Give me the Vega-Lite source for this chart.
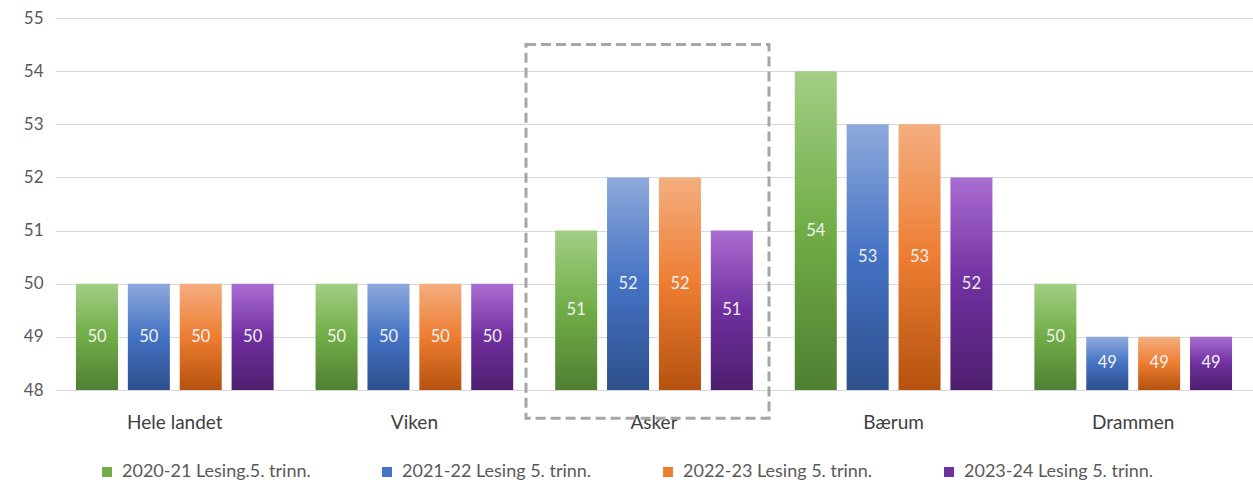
{
  "$schema": "https://vega.github.io/schema/vega-lite/v6.json",
  "width": 1198,
  "height": 372,
  "autosize": {"type": "none"},
  "padding": {"left": 55, "top": 18, "right": 0, "bottom": 95},
  "background": "white",
  "config": {
    "view": {"stroke": null},
    "font": "Lato",
    "axis": {"labelFont": "Lato"},
    "legend": {"labelFont": "Lato"}
  },
  "data": {
    "values": [
      {"kommune": "Hele landet", "serie": "2020-21 Lesing.5. trinn.", "verdi": 50},
      {"kommune": "Hele landet", "serie": "2021-22 Lesing 5. trinn.", "verdi": 50},
      {"kommune": "Hele landet", "serie": "2022-23 Lesing 5. trinn.", "verdi": 50},
      {"kommune": "Hele landet", "serie": "2023-24 Lesing 5. trinn.", "verdi": 50},
      {"kommune": "Viken", "serie": "2020-21 Lesing.5. trinn.", "verdi": 50},
      {"kommune": "Viken", "serie": "2021-22 Lesing 5. trinn.", "verdi": 50},
      {"kommune": "Viken", "serie": "2022-23 Lesing 5. trinn.", "verdi": 50},
      {"kommune": "Viken", "serie": "2023-24 Lesing 5. trinn.", "verdi": 50},
      {"kommune": "Asker", "serie": "2020-21 Lesing.5. trinn.", "verdi": 51},
      {"kommune": "Asker", "serie": "2021-22 Lesing 5. trinn.", "verdi": 52},
      {"kommune": "Asker", "serie": "2022-23 Lesing 5. trinn.", "verdi": 52},
      {"kommune": "Asker", "serie": "2023-24 Lesing 5. trinn.", "verdi": 51},
      {"kommune": "Bærum", "serie": "2020-21 Lesing.5. trinn.", "verdi": 54},
      {"kommune": "Bærum", "serie": "2021-22 Lesing 5. trinn.", "verdi": 53},
      {"kommune": "Bærum", "serie": "2022-23 Lesing 5. trinn.", "verdi": 53},
      {"kommune": "Bærum", "serie": "2023-24 Lesing 5. trinn.", "verdi": 52},
      {"kommune": "Drammen", "serie": "2020-21 Lesing.5. trinn.", "verdi": 50},
      {"kommune": "Drammen", "serie": "2021-22 Lesing 5. trinn.", "verdi": 49},
      {"kommune": "Drammen", "serie": "2022-23 Lesing 5. trinn.", "verdi": 49},
      {"kommune": "Drammen", "serie": "2023-24 Lesing 5. trinn.", "verdi": 49}
    ]
  },
  "encoding": {
    "x": {
      "field": "kommune",
      "type": "nominal",
      "sort": ["Hele landet", "Viken", "Asker", "Bærum", "Drammen"],
      "scale": {"paddingInner": 0.175, "paddingOuter": 0.0875},
      "axis": {
        "title": null,
        "labelAngle": 0,
        "labelFontSize": 19,
        "labelColor": "#404040",
        "labelPadding": 23,
        "ticks": false,
        "domain": false,
        "grid": false
      }
    }
  },
  "layer": [
    {
      "mark": {"type": "bar"},
      "encoding": {
        "xOffset": {
          "field": "serie",
          "type": "nominal",
          "scale": {"paddingInner": 0.19, "paddingOuter": 0}
        },
        "y": {
          "field": "verdi",
          "type": "quantitative",
          "scale": {"domain": [48, 55], "nice": false, "zero": false},
          "axis": {
            "title": null,
            "values": [48, 49, 50, 51, 52, 53, 54, 55],
            "format": "d",
            "labelFontSize": 17,
            "labelColor": "#595959",
            "labelPadding": 12,
            "ticks": false,
            "domain": false,
            "grid": true,
            "gridColor": "#D9D9D9",
            "gridWidth": 1.2
          }
        },
        "y2": {"datum": 48},
        "fill": {
          "condition": [
            {"test": "datum.serie === '2020-21 Lesing.5. trinn.'", "value": {"gradient": "linear", "x1": 0, "y1": 0, "x2": 0, "y2": 1, "stops": [{"offset": 0, "color": "#A3CE85"}, {"offset": 0.5, "color": "#70AD47"}, {"offset": 1, "color": "#507F33"}]}},
            {"test": "datum.serie === '2021-22 Lesing 5. trinn.'", "value": {"gradient": "linear", "x1": 0, "y1": 0, "x2": 0, "y2": 1, "stops": [{"offset": 0, "color": "#8EA9DB"}, {"offset": 0.5, "color": "#4472C4"}, {"offset": 1, "color": "#2E4F8C"}]}},
            {"test": "datum.serie === '2022-23 Lesing 5. trinn.'", "value": {"gradient": "linear", "x1": 0, "y1": 0, "x2": 0, "y2": 1, "stops": [{"offset": 0, "color": "#F4AE80"}, {"offset": 0.5, "color": "#ED7D31"}, {"offset": 1, "color": "#B5520F"}]}},
            {"test": "datum.serie === '2023-24 Lesing 5. trinn.'", "value": {"gradient": "linear", "x1": 0, "y1": 0, "x2": 0, "y2": 1, "stops": [{"offset": 0, "color": "#AA6DD2"}, {"offset": 0.5, "color": "#7030A0"}, {"offset": 1, "color": "#4E1E6E"}]}}
          ],
          "field": "serie",
          "type": "nominal",
          "scale": {"range": ["#70AD47", "#4472C4", "#ED7D31", "#7030A0"]},
          "legend": {
            "title": null,
            "orient": "none",
            "direction": "horizontal",
            "legendX": 43,
            "legendY": 445,
            "symbolType": "square",
            "symbolSize": 100,
            "labelFontSize": 18,
            "labelColor": "#595959",
            "labelLimit": 400,
            "columnPadding": 67,
            "labelOffset": 6
          }
        }
      }
    },
    {
      "transform": [{"calculate": "(datum.verdi + 48) / 2", "as": "midt"}],
      "mark": {"type": "text", "fontSize": 16.5, "color": "#F2F2F2", "baseline": "middle"},
      "encoding": {
        "xOffset": {"field": "serie", "type": "nominal"},
        "y": {"field": "midt", "type": "quantitative"},
        "text": {"field": "verdi", "type": "quantitative"}
      }
    },
    {
      "data": {"values": [{"kommune": "Asker"}]},
      "mark": {
        "type": "bar",
        "width": 243,
        "xOffset": -6.5,
        "fill": null,
        "stroke": "#A6A6A6",
        "strokeWidth": 3,
        "strokeDash": [10, 5]
      },
      "encoding": {
        "y": {"datum": 54.5},
        "y2": {"datum": 47.47}
      }
    }
  ]
}
